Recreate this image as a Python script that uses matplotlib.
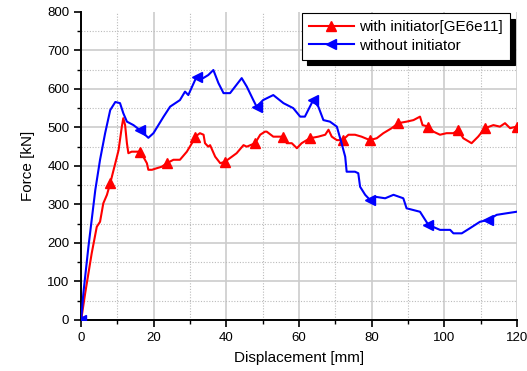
import matplotlib
matplotlib.use("Agg")
import matplotlib.pyplot as plt
from matplotlib.ticker import MultipleLocator

plt.rcParams['font.family'] = ['Liberation Sans', 'DejaVu Sans']

# Data
with_x = [0, 1.1, 2.9, 4.3, 5.2, 6.1, 7.1, 8.0, 9.4, 10.3, 11.2, 11.6, 12.1, 12.6, 13.0, 13.9,
          16.2, 17.1, 18.1, 18.5, 19.5, 20.8, 22.2, 23.6, 25.4, 27.2, 29.1, 30.5, 31.4, 32.7,
          33.7, 34.1, 35.0, 35.5, 36.9, 38.3, 39.6, 41.5, 42.8, 44.7, 45.6, 47.9, 49.3, 50.6,
          51.1, 52.9, 55.7, 56.6, 58.0, 59.4, 60.7, 63.0, 65.3, 67.2, 68.1, 69.0, 70.4, 72.0,
          73.6, 75.4, 77.2, 79.5, 81.4, 83.2, 85.5, 87.3, 89.6, 91.5, 93.3, 94.0, 95.6, 97.0,
          98.8, 100.6, 102.5, 103.8, 105.2, 107.5, 109.3, 111.2, 113.5, 115.3, 116.7, 118.1, 119.9]
with_y = [0, 69, 173, 242, 255, 303, 325, 355, 407, 441, 502, 524, 506, 459, 433, 437,
          437, 424, 407, 390, 390, 394, 398, 407, 416, 416, 437, 459, 476, 485,
          481, 459, 450, 454, 424, 407, 411, 424, 433, 454, 450, 459, 481, 489,
          489, 476, 476, 459, 459, 446, 459, 472, 476, 481, 494, 476, 467, 467,
          481, 481, 476, 467, 472, 485, 498, 511, 515, 519, 528, 506, 502, 489,
          481, 485, 485, 494, 472, 459, 476, 498, 506, 502, 511, 498, 502]

without_x = [0, 0.6, 2.0, 2.9, 3.9, 5.2, 6.6, 8.0, 9.4, 10.7, 11.6, 12.6, 14.4, 16.2, 18.5,
             19.9, 22.7, 24.5, 27.2, 28.6, 29.5, 31.8, 33.6, 35.0, 36.4, 37.8, 39.2, 41.0,
             44.2, 45.6, 47.4, 48.3, 50.1, 52.9, 55.7, 58.4, 60.3, 61.6, 63.9, 65.3, 66.7,
             68.5, 70.4, 71.7, 72.7, 73.1, 75.4, 76.3, 76.8, 78.2, 79.5, 80.9, 83.7, 86.0,
             88.7, 89.6, 93.3, 95.6, 98.8, 101.6, 102.5, 104.8, 107.0, 109.8, 112.1, 114.4,
             117.1, 119.9]
without_y = [0, 69, 190, 260, 338, 416, 485, 545, 566, 563, 537, 515, 506, 493, 473,
             485, 528, 554, 571, 593, 584, 632, 628, 636, 649, 615, 589, 589,
             628, 606, 571, 554, 571, 584, 563, 550, 528, 528, 571, 554, 519,
             515, 502, 459, 424, 385, 385, 381, 346, 325, 312, 320, 316, 325,
             316, 290, 281, 247, 234, 234, 225, 225, 238, 255, 260, 273,
             277, 281]

with_marker_x = [0, 8, 16, 24, 32, 40, 48, 56, 64, 72, 80, 88, 96, 104, 112, 120]
without_marker_x = [0, 16, 32, 48, 64, 80, 96, 112]

x_ticks = [0, 20, 40, 60, 80, 100, 120]
y_ticks = [0, 100, 200, 300, 400, 500, 600, 700, 800]

def marker_indices(xs, targets):
    idx = []
    for t in targets:
        best = min(range(len(xs)), key=lambda i: abs(xs[i] - t))
        idx.append(best)
    return idx

fig = plt.figure(figsize=(5.27, 3.71), dpi=100)
ax = fig.add_axes([0.154, 0.1375, 0.827, 0.8305])

ax.plot(with_x, with_y, color='#ff0000', lw=1.5, marker='^', markersize=6.5,
        markevery=marker_indices(with_x, with_marker_x), label='with initiator[GE6e11]', zorder=3)
ax.plot(without_x, without_y, color='#0000ff', lw=1.5, marker='<', markersize=6.5,
        markevery=marker_indices(without_x, without_marker_x), label='without initiator', zorder=3)

ax.set_xlim(0, 120)
ax.set_ylim(0, 800)
ax.set_xticks(x_ticks)
ax.set_yticks(y_ticks)
ax.xaxis.set_minor_locator(MultipleLocator(10))
ax.yaxis.set_minor_locator(MultipleLocator(50))
ax.grid(which='major', color='#cccccc', lw=1.2, ls='-', zorder=0)
ax.grid(which='minor', color='#bbbbbb', lw=0.8, ls=(0, (1, 1.5)), zorder=0)
ax.set_axisbelow(True)
# no grid line along the top edge
ax.yaxis.get_gridlines()[-1].set_visible(False)

for s in ['top', 'right']:
    ax.spines[s].set_visible(False)
for s in ['left', 'bottom']:
    ax.spines[s].set_linewidth(1.4)
ax.tick_params(which='major', direction='out', length=5, width=1.2, labelsize=9.5)
ax.tick_params(which='minor', direction='out', length=3, width=1.0)

ax.set_xlabel('Displacement [mm]', fontsize=11, labelpad=5)
ax.set_ylabel('Force [kN]', fontsize=11, labelpad=9)

leg = ax.legend(loc='upper right', bbox_to_anchor=(0.99, 1.005), fontsize=11, frameon=True,
                fancybox=False, shadow={'color': 'black', 'alpha': 1.0, 'ox': 4, 'oy': -4},
                edgecolor='black', framealpha=1, handlelength=3.0, borderpad=0.45,
                labelspacing=0.3, handletextpad=0.3, borderaxespad=0.2)
leg.get_frame().set_linewidth(0.8)

fig.savefig('out.png', dpi=100)
